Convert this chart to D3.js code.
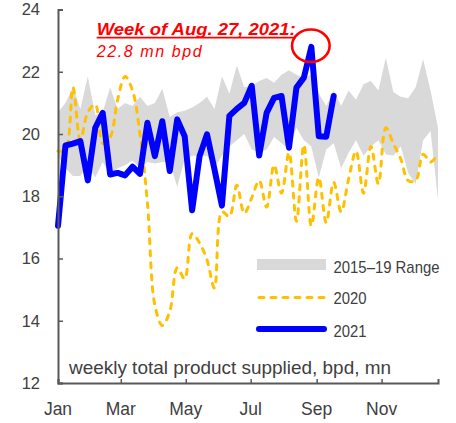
<!DOCTYPE html>
<html><head><meta charset="utf-8">
<script src="https://cdn.jsdelivr.net/npm/d3@7"></script>
<style>html,body{margin:0;padding:0;background:#fff;}svg{display:block;}</style>
</head><body>
<svg id="c" width="456" height="423"></svg>
<script>
// ---- data ----
const weeks = d3.range(52); // week index, first week starts Jan 1
const rangeHigh = [20.7,21.0,21.5,20.8,21.85,20.6,20.7,21.5,20.8,21.0,20.9,21.2,20.9,21.0,21.45,20.55,20.7,20.75,20.85,21.0,21.2,20.8,21.85,21.3,22.2,21.5,21.55,21.7,21.8,21.65,21.9,22.05,21.9,21.8,21.9,21.3,20.9,21.4,20.9,21.4,21.1,21.6,21.7,21.4,22.45,21.35,21.2,21.15,21.5,22.4,21.4,20.2];
const rangeLow = [19.3,18.9,18.65,18.65,19.0,18.6,19.1,18.7,18.9,19.0,19.15,18.9,19.1,19.05,19.1,19.1,18.3,19.2,19.3,19.3,19.3,18.9,19.3,19.6,19.8,20.0,19.5,19.4,19.5,19.9,19.7,19.5,20.2,19.8,19.6,18.6,19.5,19.7,18.9,19.4,19.8,19.3,19.6,19.8,19.35,19.3,19.6,18.75,18.4,19.8,20.1,17.9];
const y2020 = [19.45,19.5,21.5,19.8,20.7,20.95,19.7,19.9,21.1,21.85,21.4,20.0,17.8,14.5,13.85,14.3,15.7,15.35,16.8,16.5,15.95,15.05,17.5,17.35,18.35,17.45,17.95,18.5,17.65,19.0,18.1,19.4,17.2,19.65,17.05,18.6,17.15,18.45,17.5,18.55,19.45,18.1,19.6,18.4,20.2,19.7,19.2,18.5,18.5,19.35,19.1,19.35];
const y2021 = [17.05,19.63,19.69,19.77,18.51,20.2,20.68,18.7,18.75,18.67,18.95,18.72,20.36,19.29,20.41,18.81,20.47,19.93,17.55,19.29,19.99,18.86,17.7,20.58,20.81,21.0,21.55,19.31,20.68,21.16,21.22,19.56,21.49,21.81,22.8,19.93,19.91,21.22];
const yTicks = [12,14,16,18,20,22,24];
const seriesNames = ["2015\u201319 Range","2020","2021"];
const noteTitle = "Week of Aug. 27, 2021:";
const noteValue = "22.8 mn bpd";
const unitNote = "weekly total product supplied, bpd, mn";
const peakIndex = 34;

// ---- scales ----
const svg = d3.select("#c");
const start = Date.UTC(2021,0,1);
const dateOf = i => new Date(start + i*7*864e5);
const x = d3.scaleUtc().domain([dateOf(0), dateOf(51)]).range([58, 438]);
const y = d3.scaleLinear().domain([12,24]).range([383, 9.5]);
const font = "'Liberation Sans', Arial, sans-serif";
const axisCol = "#595959", textCol = "#404040";

// band
const area = d3.area().x(i => x(dateOf(i))).y0(i => y(rangeLow[i])).y1(i => y(rangeHigh[i]));
svg.append("path").attr("d", area(weeks)).attr("fill", "#d9d9d9");

// 2020
const line20 = d3.line().x((d,i) => x(dateOf(i))).y(d => y(d)).curve(d3.curveCatmullRom.alpha(0.5));
svg.append("path").attr("d", line20(y2020)).attr("fill","none").attr("stroke","#ffc000")
  .attr("stroke-width",3).attr("stroke-dasharray","5,7").attr("stroke-linecap","round");

// 2021
const line21 = d3.line().x((d,i) => x(dateOf(i))).y(d => y(d));
svg.append("path").attr("d", line21(y2021)).attr("fill","none").attr("stroke","#0000ff")
  .attr("stroke-width",6).attr("stroke-linejoin","round").attr("stroke-linecap","round");

// axes
const yAxis = d3.axisRight(y).tickValues(yTicks).tickSize(5).tickFormat("");
const gy = svg.append("g").attr("transform","translate(58,0)").call(yAxis);
const xAxis = d3.axisTop(x).ticks(d3.utcMonth.every(2)).tickSize(4).tickFormat("");
const gx = svg.append("g").attr("transform","translate(0,383)").call(xAxis);
[gy,gx].forEach(g => { g.select(".domain").attr("stroke",axisCol).attr("stroke-width",2);
  g.selectAll(".tick line").attr("stroke",axisCol).attr("stroke-width",1.5); });

svg.append("g").selectAll("text").data(yTicks).join("text")
  .attr("x",40).attr("y",d=>y(d)).attr("dy","0.35em").attr("text-anchor","end")
  .attr("font-family",font).attr("font-size",16.5).attr("fill",textCol).text(d=>d);
svg.append("g").selectAll("text").data(x.ticks(d3.utcMonth.every(2))).join("text")
  .attr("x",d=>x(d)).attr("y",415).attr("text-anchor","middle")
  .attr("font-family",font).attr("font-size",17.5).attr("fill",textCol).text(d3.utcFormat("%b"));

// legend
const lg = svg.append("g").attr("font-family",font).attr("font-size",17).attr("fill",textCol);
lg.append("rect").attr("x",257).attr("y",259).attr("width",69).attr("height",11).attr("fill","#d9d9d9");
lg.append("line").attr("x1",259).attr("x2",325).attr("y1",297.5).attr("y2",297.5).attr("stroke","#ffc000")
  .attr("stroke-width",3).attr("stroke-dasharray","5,7").attr("stroke-linecap","round");
lg.append("line").attr("x1",259).attr("x2",324).attr("y1",329).attr("y2",329).attr("stroke","#0000ff")
  .attr("stroke-width",6).attr("stroke-linecap","round");
const legY = [272.5, 304, 336.5], legW = [106, 33, 33];
seriesNames.forEach((s,i) => lg.append("text").attr("x",333.5).attr("y",legY[i])
  .attr("textLength",legW[i]).attr("lengthAdjust","spacingAndGlyphs").text(s));

svg.append("text").attr("x",69).attr("y",374).attr("font-family",font).attr("font-size",18.5)
  .attr("fill",textCol).attr("textLength",322).attr("lengthAdjust","spacingAndGlyphs").text(unitNote);

// annotation
svg.append("ellipse").attr("cx",x(dateOf(peakIndex))-0.5).attr("cy",45.7).attr("rx",18.8).attr("ry",16.2)
  .attr("fill","none").attr("stroke","#ff0000").attr("stroke-width",2.6);
svg.append("text").attr("x",96.7).attr("y",35).attr("font-family",font).attr("font-size",17)
  .attr("font-weight","bold").attr("font-style","italic").attr("fill","#ff0000")
  .attr("textLength",199).attr("lengthAdjust","spacingAndGlyphs").text(noteTitle);
svg.append("line").attr("x1",96.7).attr("x2",296).attr("y1",37.6).attr("y2",37.6)
  .attr("stroke","#ff0000").attr("stroke-width",1.8);
svg.append("text").attr("x",96.7).attr("y",56.5).attr("font-family",font).attr("font-size",16)
  .attr("font-style","italic").attr("fill","#ff0000")
  .attr("textLength",105).attr("lengthAdjust","spacing").text(noteValue);
</script>
</body></html>
